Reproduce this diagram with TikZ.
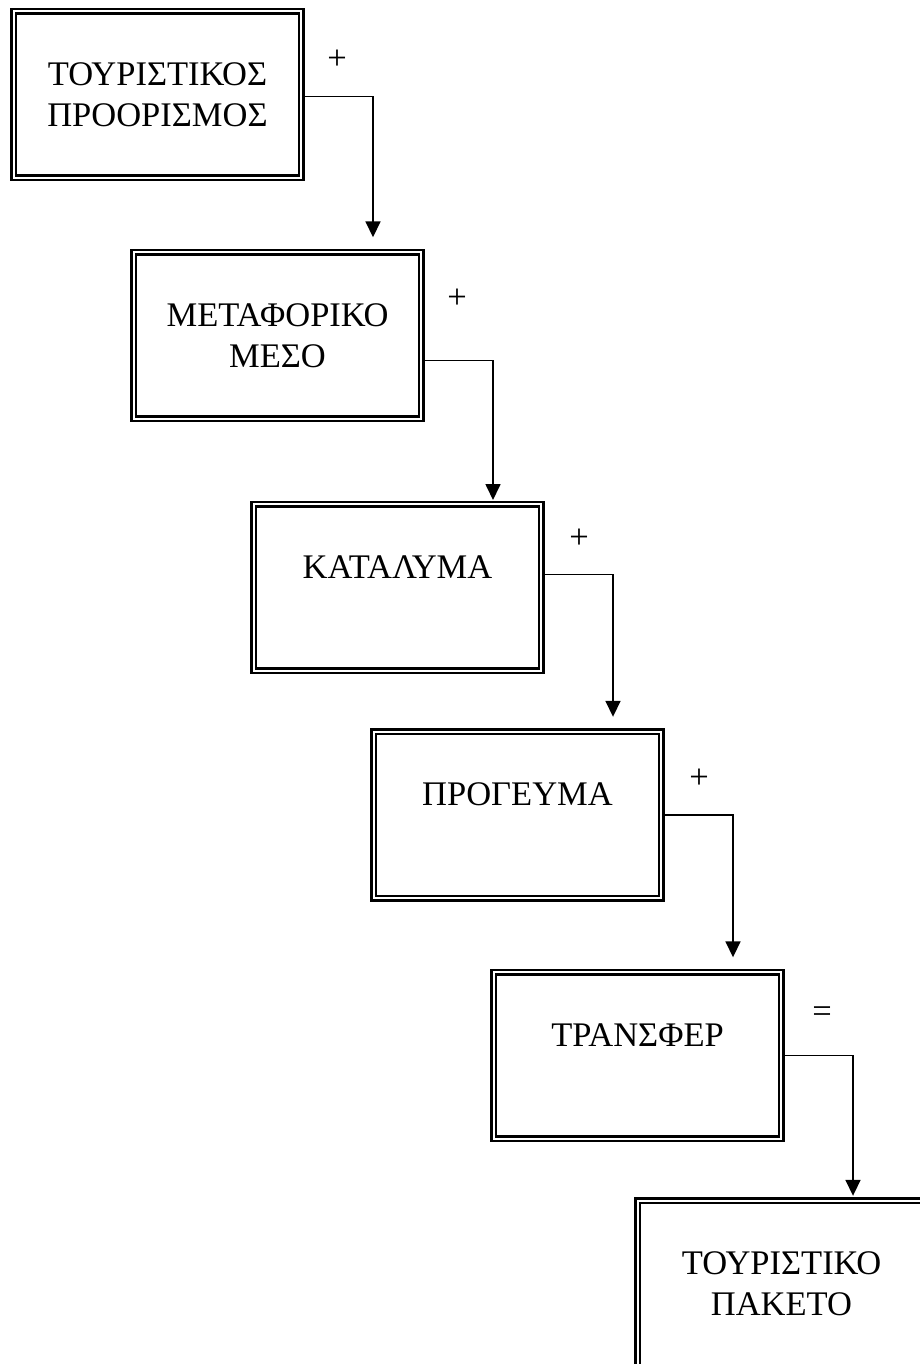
\documentclass[tikz,border=0pt]{standalone}
\usepackage{fontspec}
\setmainfont{Liberation Serif}
\usetikzlibrary{arrows.meta}

\tikzset{
	stage/.style={draw, double, double distance=2.4pt, line width=2.5pt,
		minimum width=287.5pt, minimum height=166.5pt, inner sep=0pt,
		align=center, font=\fontsize{34.5}{41}\selectfont},
	link/.style={line width=1.7pt, -{Triangle[length=16pt,width=15pt]}},
	sign/.style={font=\fontsize{34.5}{41}\selectfont}
}

\begin{document}
\begin{tikzpicture}[x=1pt, y=-1pt]
		\useasboundingbox (0,0) rectangle (919,1364);
		
		% Stages of the package
		\node[stage] (dest) at (157.5,94.5) {ΤΟΥΡΙΣΤΙΚΟΣ\\ΠΡΟΟΡΙΣΜΟΣ};
		\node[stage] (trans) at (277.5,335.5) {ΜΕΤΑΦΟΡΙΚΟ\\ΜΕΣΟ};
		\node[stage] (stay) at (397.5,587.5) {ΚΑΤΑΛΥΜΑ\\ \mbox{}};
		\node[stage] (bfast) at (517.5,815) {ΠΡΟΓΕΥΜΑ\\ \mbox{}};
		\node[stage] (xfer) at (637.5,1055.5) {ΤΡΑΝΣΦΕΡ\\ \mbox{}};
		\node[stage] (pack) at (781.5,1284) {ΤΟΥΡΙΣΤΙΚΟ\\ΠΑΚΕΤΟ};
		
		% Signs between stages
		\node[sign] (s1) at (337,60) {+};
		\node[sign] (s2) at (457,299) {+};
		\node[sign] (s3) at (579,539) {+};
		\node[sign] (s4) at (699,779) {+};
		\node[sign] (s5) at (822,1015) {=};
		
		% Connectors
		\draw[link] ([yshift=-2pt]dest.east) -| ([xshift=95.5pt, yshift=13.7pt]trans.north);
		\draw[link] ([yshift=-25pt]trans.east) -| ([xshift=95.5pt, yshift=3pt]stay.north);
		\draw[link] ([yshift=13pt]stay.east) -| ([xshift=95.5pt, yshift=13.7pt]bfast.north);
		\draw[link] (bfast.east) -| ([xshift=95.5pt, yshift=13.7pt]xfer.north);
		\draw[link] (xfer.east) -| ([xshift=71.5pt, yshift=3.7pt]pack.north);
	\end{tikzpicture}
\end{document}
